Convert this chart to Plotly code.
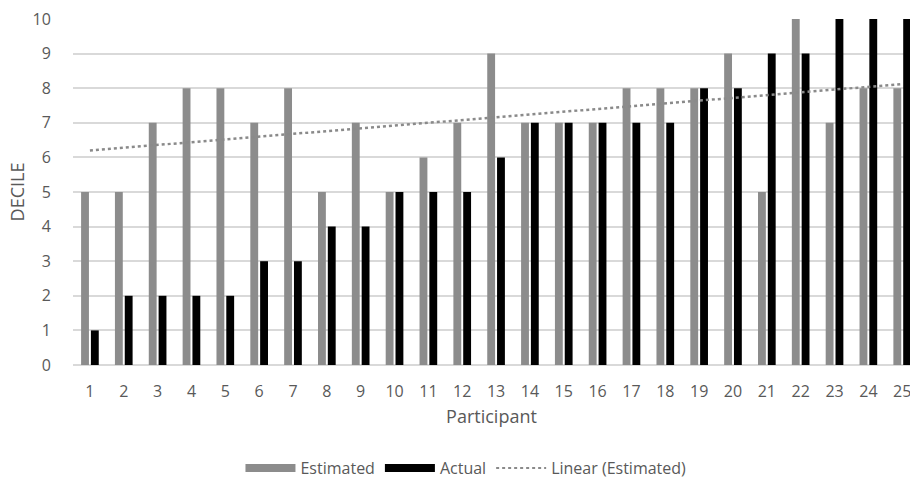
import numpy as np
import plotly.graph_objects as go

participants = list(range(1, 26))
estimated = [5, 5, 7, 8, 8, 7, 8, 5, 7, 5, 6, 7, 9, 7, 7, 7, 8, 8, 8, 9, 5, 10, 7, 8, 8]
actual = [1, 2, 2, 2, 2, 3, 3, 4, 4, 5, 5, 5, 6, 7, 7, 7, 7, 7, 8, 8, 9, 9, 10, 10, 10]

GRAY = "#8c8c8c"
BLACK = "#000000"
FONT = "Open Sans"
TXT = "#595959"

slope, intercept = np.polyfit(participants, estimated, 1)
trend_x = [participants[0], participants[-1]]
trend_y = [intercept + slope * x for x in trend_x]

fig = go.Figure()
fig.add_bar(x=participants, y=estimated, marker_color=GRAY, marker_line_width=0,
            name="Estimated", showlegend=False)
fig.add_bar(x=participants, y=actual, marker_color=BLACK, marker_line_width=0,
            name="Actual", showlegend=False)
fig.add_scatter(x=trend_x, y=trend_y, mode="lines", showlegend=False,
                line=dict(color="#8a8a8a", width=2.5, dash="dot"), name="Linear (Estimated)")

# legend proxies
fig.add_scatter(x=[None], y=[None], mode="lines", name="Estimated",
                line=dict(color=GRAY, width=8))
fig.add_scatter(x=[None], y=[None], mode="lines", name="Actual",
                line=dict(color=BLACK, width=8))
fig.add_scatter(x=[None], y=[None], mode="lines", name="Linear (Estimated)",
                line=dict(color="#8a8a8a", width=2, dash="dot"))

fig.update_layout(
    width=910, height=486,
    margin=dict(l=73, r=0, t=19, b=121, autoexpand=False),
    paper_bgcolor="white", plot_bgcolor="white",
    barmode="group", bargap=0.42, bargroupgap=0.2,
    font=dict(family=FONT, color=TXT, size=16),
    legend=dict(orientation="h", x=0.4695, xanchor="center", y=-0.298, yanchor="middle",
                font=dict(size=16, color=TXT), itemwidth=50, traceorder="normal"),
)
fig.update_xaxes(range=[0.5, 25.23], tickmode="array", tickvals=participants,
                 ticktext=[str(p) for p in participants], showgrid=False,
                 showline=False, zeroline=False, ticks="outside", ticklen=12,
                 tickcolor="rgba(0,0,0,0)", automargin=False, ticklabeloverflow="allow",
                 tickfont=dict(size=16, color=TXT),
                 title=dict(text="Participant", font=dict(size=18, color=TXT), standoff=9))
fig.update_yaxes(range=[0, 10], tickmode="linear", dtick=1, showgrid=True,
                 gridcolor="#d9d9d9", gridwidth=1.5, zeroline=True, zerolinecolor="#d9d9d9",
                 zerolinewidth=1.5, showline=False, ticks="outside", ticklen=18,
                 tickcolor="rgba(0,0,0,0)", automargin=False, ticklabeloverflow="allow",
                 tickfont=dict(size=16, color=TXT),
                 title=dict(text="DECILE", font=dict(size=18, color=TXT), standoff=3))

fig.write_html(
    "out.html",
    config={"displayModeBar": False},
    post_script="document.body.style.margin='0';document.documentElement.style.overflow='hidden';document.body.style.overflow='hidden';",
)
